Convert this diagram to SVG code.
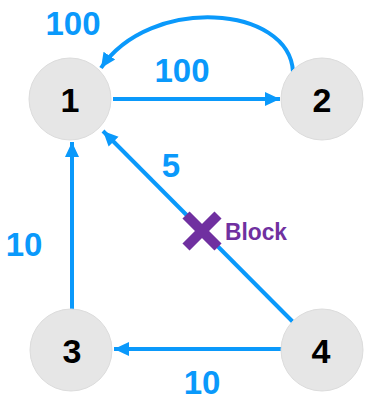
<svg xmlns="http://www.w3.org/2000/svg" width="365" height="401" viewBox="0 0 365 401">
  <style>
    .node circle { fill: #e6e6e6; stroke: #dcdcdc; stroke-width: 1; }
    .node text { font-family: "Liberation Sans", Arial, sans-serif; font-weight: bold; font-size: 34px; fill: #000; text-anchor: middle; }
    .edge { fill: none; stroke: #0a99fb; stroke-width: 4; marker-end: url(#arrow); }
    .weight { font-family: "Liberation Sans", Arial, sans-serif; font-weight: bold; font-size: 33px; fill: #0a99fb; text-anchor: middle; }
    .block { stroke: #7030a0; stroke-width: 10; stroke-linecap: butt; }
    .blocklabel { font-family: "Liberation Sans", Arial, sans-serif; font-weight: bold; font-size: 23px; fill: #7030a0; }
  </style>
  <defs>
    <marker id="arrow" markerUnits="userSpaceOnUse" markerWidth="16" markerHeight="16" viewBox="0 0 16 16" refX="15" refY="8" orient="auto">
      <path d="M0,1 L15,8 L0,15 Z" fill="#0a99fb"/>
    </marker>
  </defs>

  <!-- connectors -->
  <g id="edges">
    <path class="edge" d="M113,99 L280,99"/>
    <path class="edge" d="M293,72 C290,5 150,-5 101,68"/>
    <path class="edge" d="M72,310 L72,142"/>
    <path class="edge" d="M293,322 L103,131"/>
    <path class="edge" d="M282,349 L114,349"/>
  </g>

  <!-- edge weights -->
  <g id="weights">
    <text class="weight" x="73" y="35">100</text>
    <text class="weight" x="182" y="82">100</text>
    <text class="weight" x="24" y="256">10</text>
    <text class="weight" x="171" y="177">5</text>
    <text class="weight" x="202" y="394">10</text>
  </g>

  <!-- blocked edge marker -->
  <g id="block">
    <line class="block" x1="186" y1="215" x2="218" y2="247"/>
    <line class="block" x1="218" y1="215" x2="186" y2="247"/>
    <text class="blocklabel" x="225" y="240" textLength="62" lengthAdjust="spacingAndGlyphs">Block</text>
  </g>

  <!-- nodes -->
  <g id="node1" class="node">
    <circle cx="70" cy="99" r="41"/>
    <text x="70" y="112">1</text>
  </g>
  <g id="node2" class="node">
    <circle cx="322" cy="99" r="41"/>
    <text x="322" y="112">2</text>
  </g>
  <g id="node3" class="node">
    <circle cx="71" cy="350" r="41"/>
    <text x="72" y="363">3</text>
  </g>
  <g id="node4" class="node">
    <circle cx="322" cy="350" r="41"/>
    <text x="321" y="363">4</text>
  </g>
</svg>
